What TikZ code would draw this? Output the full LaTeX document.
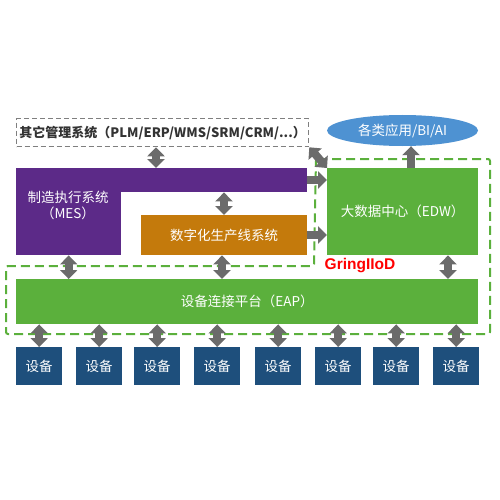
\documentclass[tikz,border=0pt]{standalone}
\usepackage{fontspec}
\setmainfont{Noto Sans CJK SC}
\newfontfamily\brandfont{Liberation Sans}
\usepackage{tikz}
\usetikzlibrary{positioning,arrows.meta,shapes.geometric}
\usepackage{xcolor}
\definecolor{mespurple}{HTML}{5C2A88}
\definecolor{lineorange}{HTML}{C47A0C}
\definecolor{datagreen}{HTML}{5BB03C}
\definecolor{devblue}{HTML}{1E4F7C}
\definecolor{appblue}{HTML}{4E92D2}
\definecolor{arrgray}{HTML}{6B6B6B}
\definecolor{framegray}{HTML}{7F7F7F}

\begin{document}
\begin{tikzpicture}[
  x=1pt, y=-1pt,
  box/.style={
    rectangle, draw=none, fill=#1, text=white, anchor=north west,
    font=\fontsize{13.5}{16}\selectfont, inner sep=0pt, align=center
  },
  dbl/.style={
    draw=arrgray, line width=8pt,
    {Triangle[length=9pt,width=17pt]}-{Triangle[length=9pt,width=17pt]}
  },
  arr/.style={
    draw=arrgray, line width=8pt, -{Triangle[length=9pt,width=17pt]}
  }
]
\useasboundingbox (0,0) rectangle (500,500);

% IIoD region
\draw[datagreen, line width=2pt, dash pattern=on 9pt off 5pt, rounded corners=2pt]
  (316,159) -- (490,159) -- (490,334) -- (6,334) -- (6,266) -- (314,266) -- cycle;
\node[text=red, font=\brandfont\bfseries\fontsize{15.5}{18}\selectfont] (brand) at (360,266) {GringIIoD};

\node[box=white, draw=framegray, line width=1.3pt, dash pattern=on 5pt off 3pt,
  minimum width=292pt, minimum height=28pt, text=black!80,
  font=\bfseries\fontsize{13}{15}\selectfont] (other) at (16,118)
  {其它管理系统（PLM/ERP/WMS/SRM/CRM/...）};

\node[ellipse, fill=appblue, text=white, minimum width=151pt, minimum height=31pt,
  inner sep=0pt, font=\fontsize{13.5}{16}\selectfont] (app) at (402.5,130.5) {各类应用/BI/AI};

\node[box=mespurple, minimum width=291pt, minimum height=24pt] (mesbar) at (16,168) {};
\node[box=mespurple, minimum width=105pt, minimum height=87pt] (mescol) at (16,168) {};
\node[text=white, align=center, font=\fontsize{13.5}{16}\selectfont] (mes) at (68,205)
  {制造执行系统\\（MES）};

\node[box=lineorange, minimum width=166pt, minimum height=40pt] (line) at (141,215) {数字化生产线系统};

\node[box=datagreen, minimum width=151pt, minimum height=87pt] (edw) at (327,168) {大数据中心（EDW）};

\node[box=datagreen, minimum width=462pt, minimum height=45pt] (eap) at (16,279) {设备连接平台（EAP）};

\foreach \n/\x in {1/16, 2/76, 3/134, 4/194, 5/255, 6/315, 7/373, 8/433}{
  \node[box=devblue, minimum width=46pt, minimum height=38pt] (dev\n) at (\x,347) {设备};
  \draw[dbl] (dev\n.north |- eap.south) -- (dev\n.north);
}

\draw[dbl] (other.south -| 156,0) -- (mesbar.north -| 156,0);
\draw[dbl] (mesbar.south -| 224,0) -- (line.north -| 224,0);
\draw[dbl] (mescol.south) -- (eap.north -| mescol.south);
\draw[dbl] (line.south -| 222,0) -- (eap.north -| 222,0);
\draw[dbl] (edw.south -| 448,0) -- (eap.north -| 448,0);
\draw[dbl] (other.south east) -- (edw.north west);
\draw[arr] (mesbar.east |- 0,180) -- (edw.west |- 0,180);
\draw[arr] (line.east |- 0,235) -- (edw.west |- 0,235);
\draw[arr] (edw.north -| 411,0) -- (app.south -| 411,0);

\end{tikzpicture}
\end{document}
